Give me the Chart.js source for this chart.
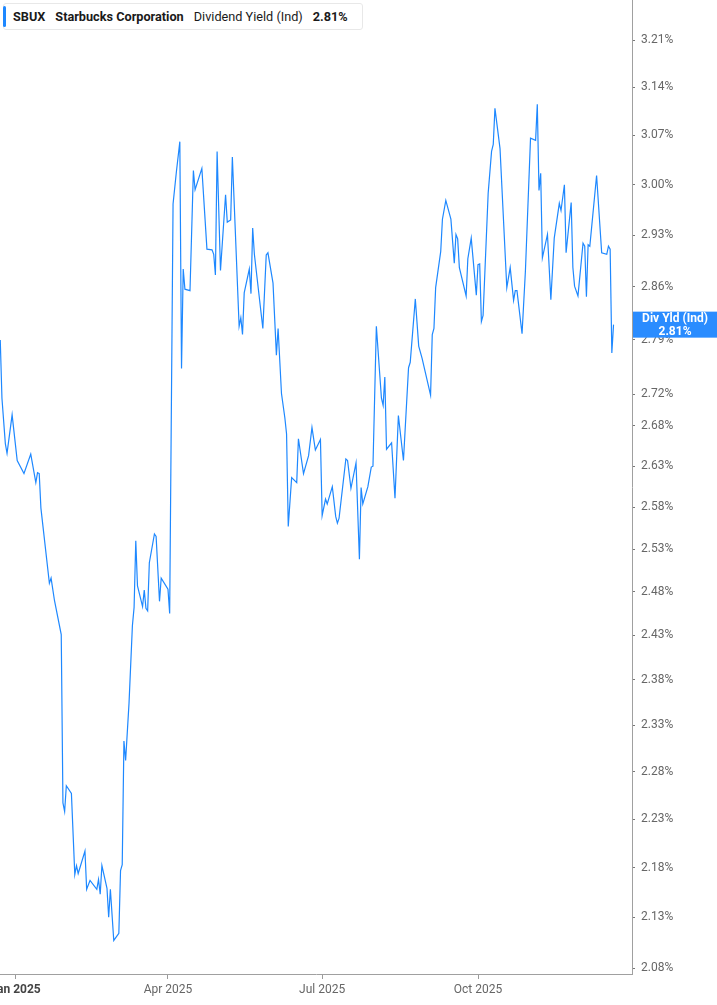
<!DOCTYPE html>
<html>
<head>
<meta charset="utf-8">
<title>SBUX Dividend Yield</title>
<script src="https://cdn.jsdelivr.net/npm/chart.js@4.4.1/dist/chart.umd.min.js"></script>
<style>
  html, body { margin: 0; padding: 0; background: #fff; }
  #wrap { position: relative; width: 717px; height: 1005px; overflow: hidden; }
  #chart { display: block; }
  .legend {
    position: absolute; left: 3px; top: 3px; height: 25px;
    background: #fff; border: 1px solid #e8e8e8; border-radius: 3px;
    font-family: Roboto, "Noto Sans", sans-serif; font-size: 12.7px; color: #1a1a1a;
    display: flex; align-items: center; gap: 10px; padding: 0 14px 0 9px; box-sizing: content-box;
  }
  .legend .bar { position: absolute; left: -1px; top: 2px; bottom: 2px; width: 3px; background: #1e88ff; border-radius: 2px; }
  .legend b { font-weight: 700; }
</style>
</head>
<body>
<div id="wrap">
  <canvas id="chart" width="717" height="1005"></canvas>
  <div class="legend">
    <span class="bar"></span>
    <b id="lg-ticker"></b><b id="lg-name"></b><span id="lg-metric"></span><b id="lg-value"></b>
  </div>
</div>
<script>
// Series: days since 2025-01-01, dividend yield in %
const days = [
  -9, -8, -6, -5, -2, 1, 5, 9, 12, 13,
  14, 15, 20, 21, 23, 27, 28, 29, 30, 33,
  35, 36, 37, 41, 42, 44, 48, 49, 50, 51,
  54, 55, 56, 58, 61, 62, 63, 64, 65, 67,
  69, 70, 71, 72, 75, 76, 77, 78, 79, 82,
  83, 85, 86, 90, 91, 93, 95, 97, 98, 99,
  100, 103, 105, 106, 110, 113, 116, 117, 118, 119,
  121, 124, 125, 127, 128, 132, 133, 134, 135, 138,
  139, 140, 141, 146, 148, 149, 152, 154, 155, 157,
  159, 160, 161, 163, 166, 167, 170, 173, 175, 177,
  180, 181, 183, 184, 187, 189, 190, 191, 195, 196,
  198, 201, 203, 204, 205, 208, 210, 211, 213, 216,
  217, 218, 219, 222, 224, 226, 229, 232, 233, 236,
  238, 240, 245, 246, 247, 248, 251, 252, 254, 257,
  259, 260, 261, 262, 266, 267, 269, 272, 273, 274,
  275, 276, 279, 281, 282, 283, 286, 290, 292, 294,
  295, 296, 299, 301, 304, 307, 308, 309, 310, 311,
  314, 316, 318, 321, 322, 324, 325, 328, 329, 330,
  332, 335, 336, 337, 338, 339, 343, 346, 349, 350,
  351, 352, 353
];
const yields = [
  2.790, 2.715, 2.658, 2.646, 2.694, 2.637, 2.621, 2.645, 2.610, 2.622,
  2.621, 2.579, 2.490, 2.496, 2.470, 2.431, 2.247, 2.238, 2.265, 2.257,
  2.173, 2.182, 2.174, 2.197, 2.158, 2.167, 2.158, 2.168, 2.153, 2.182,
  2.159, 2.130, 2.158, 2.107, 2.114, 2.177, 2.183, 2.313, 2.292, 2.354,
  2.441, 2.462, 2.540, 2.487, 2.463, 2.482, 2.461, 2.458, 2.514, 2.548,
  2.545, 2.469, 2.496, 2.483, 2.455, 2.973, 3.019, 3.061, 2.753, 2.884,
  2.857, 2.855, 3.020, 2.993, 3.023, 2.911, 2.910, 2.904, 2.876, 3.047,
  2.882, 2.986, 2.948, 2.951, 3.039, 2.808, 2.819, 2.797, 2.852, 2.884,
  2.851, 2.940, 2.904, 2.805, 2.903, 2.906, 2.865, 2.770, 2.805, 2.721,
  2.690, 2.670, 2.557, 2.616, 2.610, 2.664, 2.621, 2.643, 2.678, 2.650,
  2.663, 2.570, 2.590, 2.584, 2.605, 2.569, 2.561, 2.567, 2.639, 2.637,
  2.603, 2.634, 2.518, 2.604, 2.584, 2.605, 2.629, 2.630, 2.808, 2.715,
  2.706, 2.742, 2.651, 2.659, 2.591, 2.693, 2.637, 2.754, 2.761, 2.844,
  2.782, 2.766, 2.719, 2.797, 2.805, 2.859, 2.908, 2.952, 2.978, 2.952,
  2.892, 2.931, 2.925, 2.886, 2.848, 2.898, 2.926, 2.849, 2.890, 2.891,
  2.814, 2.822, 2.988, 3.047, 3.057, 3.109, 3.051, 2.859, 2.886, 2.842,
  2.855, 2.855, 2.798, 2.882, 3.066, 3.063, 3.115, 2.992, 3.016, 2.899,
  2.931, 2.843, 2.926, 2.974, 2.964, 3.000, 2.906, 2.975, 2.886, 2.861,
  2.848, 2.919, 2.915, 2.847, 2.917, 2.915, 3.013, 2.906, 2.904, 2.915,
  2.911, 2.773, 2.810
];

const yTicks = [3.21, 3.14, 3.07, 3.00, 2.93, 2.86, 2.79, 2.72, 2.68, 2.63, 2.58,
  2.53, 2.48, 2.43, 2.38, 2.33, 2.28, 2.23, 2.18, 2.13, 2.08];
const xTickDays = [0, 90, 181, 273];
const xTickLabels = ["Jan 2025", "Apr 2025", "Jul 2025", "Oct 2025"];

const ticker = "SBUX";
const company = "Starbucks Corporation";
const metric = "Dividend Yield (Ind)";
const shortMetric = "Div Yld (Ind)";

const LINE = "#1e88ff";
const lastValue = yields[yields.length - 1];
const fmt = (v) => v.toFixed(2) + "%";

document.getElementById("lg-ticker").textContent = ticker;
document.getElementById("lg-name").textContent = company;
document.getElementById("lg-metric").textContent = metric;
document.getElementById("lg-value").textContent = fmt(lastValue);

// Blue label on the right axis at the last value
const lastLabel = {
  id: "lastLabel",
  afterDraw(chart) {
    const { ctx, chartArea, scales } = chart;
    const y = scales.y.getPixelForValue(lastValue);
    const left = chartArea.right + 1;
    const w = chart.width - left;
    ctx.save();
    ctx.fillStyle = "#2a8cff";
    ctx.fillRect(left, y - 13, w, 26);
    ctx.fillStyle = "#fff";
    ctx.font = "bold 12px Roboto, sans-serif";
    ctx.textAlign = "center";
    ctx.textBaseline = "middle";
    ctx.fillText(shortMetric, left + w / 2, y - 6);
    ctx.fillText(fmt(lastValue), left + w / 2, y + 7);
    ctx.restore();
  },
};

new Chart(document.getElementById("chart"), {
  type: "line",
  data: {
    datasets: [
      {
        data: days.map((d, i) => ({ x: d, y: yields[i] })),
        borderColor: LINE,
        borderWidth: 1.2,
        pointRadius: 0,
        tension: 0,
        fill: false,
      },
    ],
  },
  options: {
    responsive: false,
    animation: false,
    layout: { padding: 0 },
    plugins: { legend: { display: false }, tooltip: { enabled: false } },
    scales: {
      x: {
        type: "linear",
        min: -9.15,
        max: 363.9,
        grid: { drawOnChartArea: false, drawTicks: true, tickLength: 5, color: "#9a9a9a" },
        border: { color: "#a0a0a0", width: 1 },
        ticks: {
          autoSkip: false,
          maxRotation: 0,
          padding: 4,
          color: (c) => (c.index === 0 ? "#444" : "#666"),
          font: (c) => ({ family: "Roboto", size: 12, weight: c.index === 0 ? "bold" : "normal" }),
          callback: (v) => xTickLabels[xTickDays.indexOf(v)],
        },
        afterBuildTicks: (s) => { s.ticks = xTickDays.map((v) => ({ value: v })); },
        afterFit: (s) => { s.height = 31; s.paddingLeft = 0; s.paddingRight = 0; },
      },
      y: {
        type: "logarithmic",
        position: "right",
        min: 2.0742,
        max: 3.2706,
        grid: { drawOnChartArea: false, drawTicks: true, tickLength: 3, color: "#777" },
        border: { color: "#a0a0a0", width: 1 },
        ticks: {
          padding: 6,
          color: "#666",
          font: { family: "Roboto", size: 12 },
          callback: (v) => fmt(v),
        },
        afterBuildTicks: (s) => { s.ticks = yTicks.map((v) => ({ value: v })); },
        afterFit: (s) => { s.width = 85; s.paddingTop = 0; s.paddingBottom = 0; },
      },
    },
  },
  plugins: [lastLabel],
});
</script>
</body>
</html>
